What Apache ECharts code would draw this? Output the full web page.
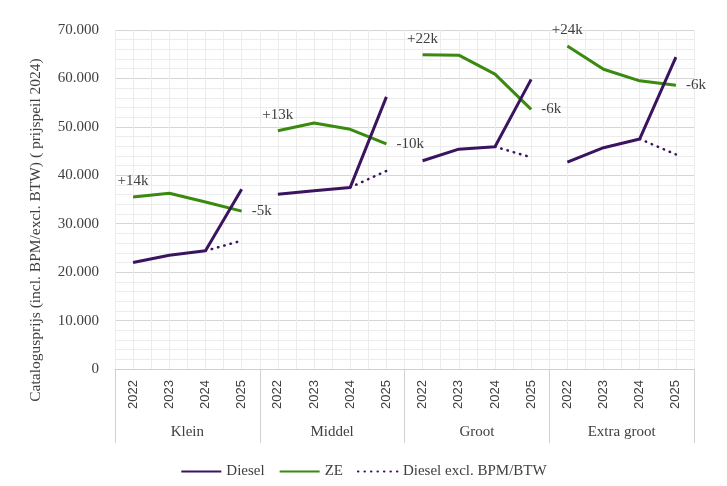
<!DOCTYPE html>
<html>
<head>
<meta charset="utf-8">
<script src="https://cdn.jsdelivr.net/npm/echarts@6/dist/echarts.min.js"></script>
<style>
  html, body { margin: 0; padding: 0; background: #fff; }
  #chart { width: 727px; height: 486px; }
</style>
</head>
<body>
<div id="chart"></div>
<script>
// Data
const groups = ['Klein', 'Middel', 'Groot', 'Extra groot'];
const years = ['2022', '2023', '2024', '2025'];

const dieselKlein = [22000, 23500, 24400, 37100];
const dieselMiddel = [36100, 36800, 37500, 56200];
const dieselGroot = [43000, 45400, 45900, 59800];
const dieselExtra = [42700, 45700, 47500, 64400];

const zeKlein = [35500, 36300, 34500, 32600];
const zeMiddel = [49200, 50800, 49500, 46500];
const zeGroot = [64900, 64800, 60900, 53600];
const zeExtra = [66700, 61900, 59500, 58600];

// Diesel excl. BPM/BTW (alleen 2024 -> 2025)
const exclKlein = [24400, 26500];
const exclMiddel = [37500, 40900];
const exclGroot = [45900, 43700];
const exclExtra = [47500, 44300];

const startLabels = ['+14k', '+13k', '+22k', '+24k'];
const endLabels = ['-5k', '-10k', '-6k', '-6k'];

const diesel = [dieselKlein, dieselMiddel, dieselGroot, dieselExtra];
const ze = [zeKlein, zeMiddel, zeGroot, zeExtra];
const excl = [exclKlein, exclMiddel, exclGroot, exclExtra];

const purple = '#3b1460';
const green = '#3a8a10';
const textColor = '#404040';
const serif = '"Liberation Serif", "DejaVu Serif", serif';

// categories: 16 (jaar per groep)
const cats = [];
groups.forEach(g => years.forEach(y => cats.push(g + ' ' + y)));
const halfCats = [];
for (let i = 0; i < cats.length * 2; i++) halfCats.push(String(i));

// helper: waarden op de juiste plek zetten, rest null
function place(values, groupIdx, startYear) {
    const arr = new Array(cats.length).fill(null);
    values.forEach((v, i) => { arr[groupIdx * 4 + startYear + i] = v; });
    return arr;
}

const series = [];
diesel.forEach((vals, g) => {
    series.push({
        name: 'Diesel', type: 'line', xAxisIndex: 0,
        data: place(vals, g, 0),
        symbol: 'none', connectNulls: false,
        lineStyle: { color: purple, width: 3 },
        itemStyle: { color: purple },
        z: 3
    });
});
ze.forEach((vals, g) => {
    const d = place(vals, g, 0).map((v, i) => {
        if (i === g * 4) {
            return { value: v, symbol: 'circle', symbolSize: 0.1,
                label: { show: true, position: 'top', distance: 8, formatter: startLabels[g] } };
        }
        if (i === g * 4 + 3) {
            return { value: v, symbol: 'circle', symbolSize: 0.1,
                label: { show: true, position: 'right', distance: 10, formatter: endLabels[g] } };
        }
        return v;
    });
    series.push({
        name: 'ZE', type: 'line', xAxisIndex: 0,
        data: d,
        symbol: 'none', connectNulls: false,
        lineStyle: { color: green, width: 3 },
        itemStyle: { color: green },
        label: { color: textColor, fontFamily: serif, fontSize: 15 },
        z: 2
    });
});
excl.forEach((vals, g) => {
    series.push({
        name: 'Diesel excl. BPM/BTW', type: 'line', xAxisIndex: 0,
        data: place(vals, g, 2),
        symbol: 'none', connectNulls: false,
        lineStyle: { color: purple, width: 2.5, type: [0.5, 6], cap: 'round' },
        itemStyle: { color: purple },
        z: 1
    });
});

const chart = echarts.init(document.getElementById('chart'));
chart.setOption({
    animation: false,
    grid: { left: 115, right: 33, top: 30, bottom: 117 },
    legend: {
        data: ['Diesel', 'ZE', 'Diesel excl. BPM/BTW'],
        bottom: 2,
        left: 'center',
        itemWidth: 40,
        itemHeight: 12,
        itemGap: 14,
        itemStyle: { opacity: 0 },
        textStyle: { color: textColor, fontFamily: serif, fontSize: 15 }
    },
    xAxis: [
        {
            type: 'category', data: cats, position: 'bottom',
            boundaryGap: true,
            axisLine: { show: true, lineStyle: { color: '#d0d0d0' } },
            axisTick: { show: false },
            splitLine: { show: false },
            axisLabel: {
                interval: 0, rotate: 90, margin: 11,
                color: textColor, fontSize: 13,
                fontFamily: '"Liberation Sans", "DejaVu Sans", sans-serif',
                formatter: v => v.split(' ').pop()
            }
        },
        {
            type: 'category', data: groups, position: 'bottom',
            boundaryGap: true,
            axisLine: { show: false },
            axisTick: { show: true, length: 74, interval: 0, lineStyle: { color: '#d0d0d0' } },
            splitLine: { show: false },
            axisLabel: { interval: 0, margin: 56, color: textColor, fontSize: 15, fontFamily: serif }
        },
        {
            type: 'category', data: halfCats, position: 'top',
            boundaryGap: true, show: true,
            axisLine: { show: false }, axisTick: { show: false }, axisLabel: { show: false },
            splitLine: { show: true, interval: 0, lineStyle: { color: '#ececec', width: 1 } }
        }
    ],
    yAxis: {
        type: 'value', min: 0, max: 70000, interval: 10000,
        axisLine: { show: false }, axisTick: { show: false },
        axisLabel: {
            color: textColor, fontSize: 15, fontFamily: serif, margin: 16,
            formatter: v => v.toLocaleString('de-DE')
        },
        splitLine: { lineStyle: { color: '#d6d6d6' } },
        minorTick: { show: false, splitNumber: 5 },
        minorSplitLine: { show: true, lineStyle: { color: '#ececec' } }
    },
    graphic: [{
        type: 'text',
        x: 36, y: 230,
        rotation: Math.PI / 2,
        style: {
            text: 'Catalogusprijs (incl. BPM/excl. BTW) ( prijspeil 2024)',
            fill: textColor, fontFamily: serif, fontSize: 15.5,
            textAlign: 'center', textVerticalAlign: 'middle'
        }
    }],
    series: series
});
</script>
</body>
</html>
